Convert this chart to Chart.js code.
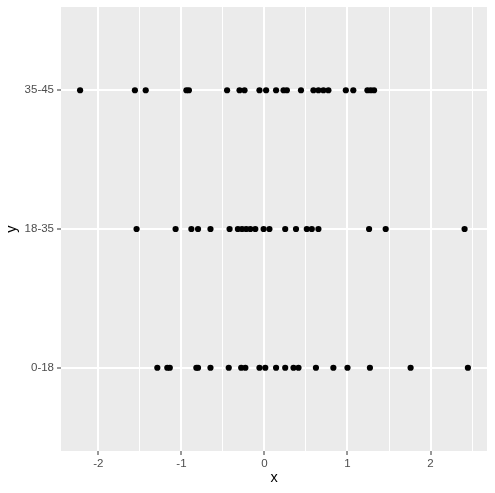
<!DOCTYPE html>
<html>
<head>
<meta charset="utf-8">
<script src="https://cdn.jsdelivr.net/npm/chart.js@4"></script>
<style>
  body { margin: 0; background: #ffffff; }
  canvas { display: block; }
</style>
</head>
<body>
<canvas id="chart" width="495" height="493"></canvas>
<script>
// categorías del eje y
const grupos = ['0-18', '18-35', '35-45'];

// valores de x por grupo
const valores0a18 = [-1.29, -1.17, -1.14, -0.82, -0.80, -0.65, -0.43, -0.28, -0.23, -0.06,
    0.01, 0.14, 0.25, 0.35, 0.41, 0.62, 0.83, 1.00, 1.27, 1.76, 2.45];
const valores18a35 = [-1.54, -1.07, -0.88, -0.80, -0.65, -0.42, -0.32, -0.27, -0.22, -0.17,
    -0.11, -0.01, 0.06, 0.25, 0.38, 0.51, 0.57, 0.65, 1.26, 1.46, 2.41];
const valores35a45 = [-2.22, -1.56, -1.43, -0.94, -0.91, -0.45, -0.30, -0.24, -0.06, 0.02,
    0.14, 0.23, 0.27, 0.44, 0.59, 0.65, 0.71, 0.77, 0.98, 1.07, 1.24, 1.28, 1.32];

// ticks del eje x
const ticksX = [-2, -1.5, -1, -0.5, 0, 0.5, 1, 1.5, 2, 2.5];

const series = [valores0a18, valores18a35, valores35a45];

const datasets = series.map((vals, i) => ({
    label: grupos[i],
    data: vals.map(v => ({ x: v, y: i + 1 })),
    backgroundColor: '#000000',
    borderWidth: 0,
    pointRadius: 3.1
}));

// fondo gris del panel
const fondoPanel = {
    id: 'fondoPanel',
    beforeDraw(chart) {
        const { ctx, chartArea: a } = chart;
        ctx.save();
        ctx.fillStyle = '#EBEBEB';
        ctx.fillRect(a.left, a.top, a.right - a.left, a.bottom - a.top);
        ctx.restore();
    }
};

const esMayor = v => Number.isInteger(v);

new Chart(document.getElementById('chart').getContext('2d'), {
    type: 'scatter',
    data: { datasets: datasets },
    plugins: [fondoPanel],
    options: {
        responsive: false,
        animation: false,
        layout: { padding: { top: 7, right: 8, left: 0, bottom: 0 } },
        plugins: { legend: { display: false }, tooltip: { enabled: false } },
        scales: {
            x: {
                type: 'linear',
                min: -2.45,
                max: 2.68,
                afterBuildTicks: s => { s.ticks = ticksX.map(v => ({ value: v })); },
                afterFit: s => { s.height = 42; s.paddingLeft = 0; s.paddingRight = 0; },
                border: { display: false },
                grid: {
                    color: '#FFFFFF',
                    lineWidth: c => esMayor(c.tick.value) ? 2 : 1,
                    tickLength: 4,
                    tickColor: c => esMayor(c.tick.value) ? '#333333' : 'rgba(0,0,0,0)',
                    tickWidth: 1
                },
                ticks: {
                    autoSkip: false,
                    maxRotation: 0,
                    padding: 2,
                    color: '#4D4D4D',
                    font: { family: 'Liberation Sans, Arial, sans-serif', size: 11.5 },
                    callback: v => esMayor(v) ? String(v) : ''
                },
                title: {
                    display: true,
                    text: 'x',
                    color: '#000000',
                    padding: { top: 0, bottom: 6 },
                    font: { family: 'Liberation Sans, Arial, sans-serif', size: 14.5 }
                }
            },
            y: {
                type: 'linear',
                min: 0.4,
                max: 3.6,
                afterBuildTicks: s => { s.ticks = grupos.map((g, i) => ({ value: i + 1 })); },
                afterFit: s => { s.width = 61; s.paddingTop = 0; s.paddingBottom = 0; },
                border: { display: false },
                grid: {
                    color: '#FFFFFF',
                    lineWidth: 2,
                    tickLength: 4,
                    tickColor: '#333333',
                    tickWidth: 1
                },
                ticks: {
                    autoSkip: false,
                    padding: 3,
                    color: '#4D4D4D',
                    font: { family: 'Liberation Sans, Arial, sans-serif', size: 11.5 },
                    callback: v => grupos[v - 1] || ''
                },
                title: {
                    display: true,
                    text: 'y',
                    color: '#000000',
                    padding: { top: 3, bottom: 0 },
                    font: { family: 'Liberation Sans, Arial, sans-serif', size: 14.5 }
                }
            }
        }
    }
});
</script>
</body>
</html>
